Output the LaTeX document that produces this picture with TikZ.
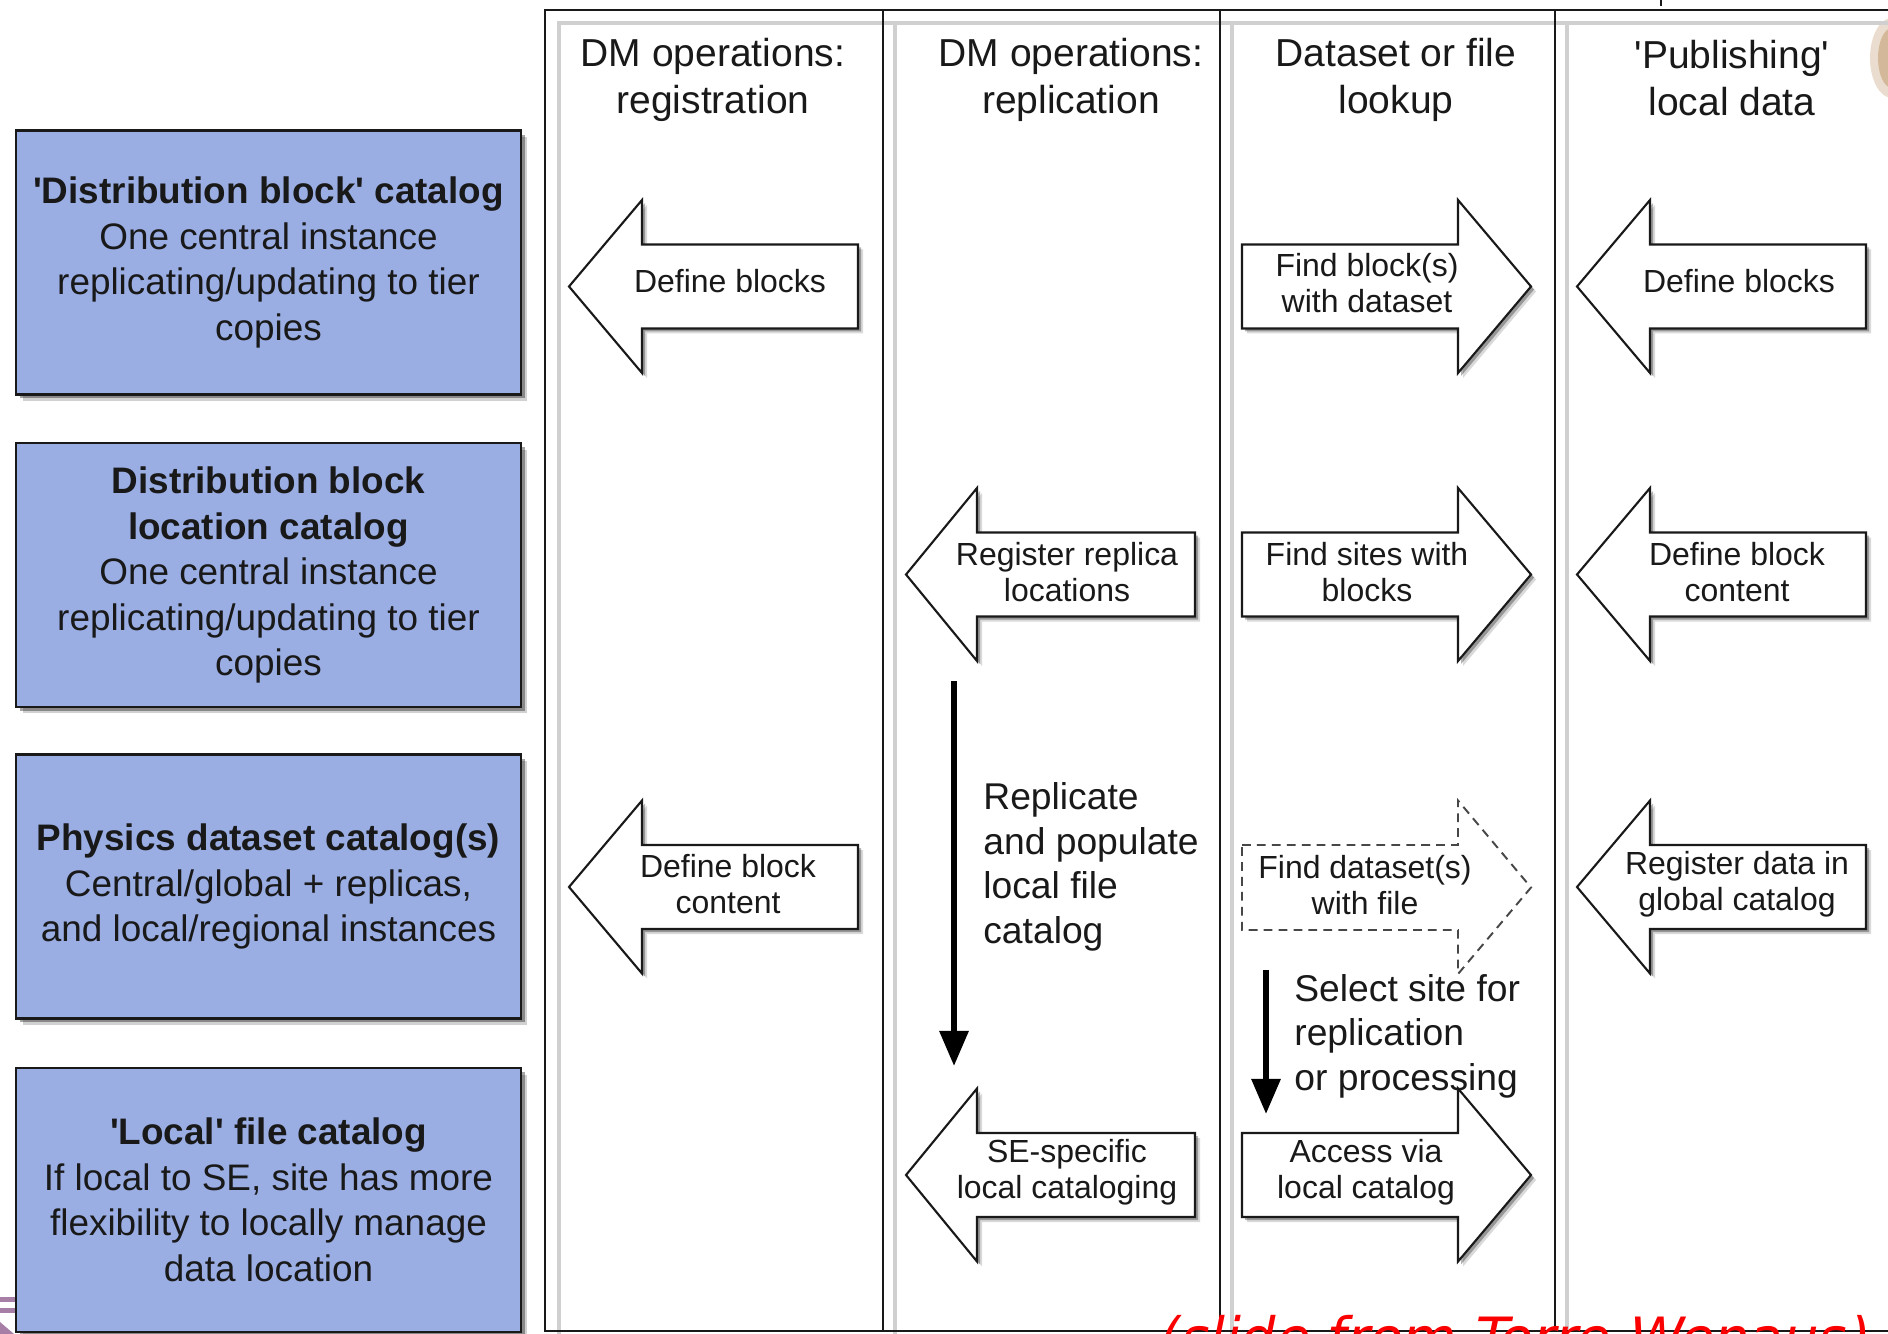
\documentclass[tikz,border=0pt]{standalone}
\usepackage{fontspec}
\setmainfont{Liberation Sans}[Ligatures=TeXOff]
\newfontfamily\redfont[FakeSlant=0.2]{DejaVu Sans}
\usetikzlibrary{arrows.meta,shadows}
\definecolor{boxblue}{RGB}{154,174,228}
\definecolor{lanegray}{RGB}{208,208,208}
\definecolor{ink}{RGB}{25,25,25}
\definecolor{slidered}{RGB}{250,0,0}
\definecolor{photobrown}{RGB}{196,160,118}
\newcommand\blkL[4]{% tip x, head base x, end x, centre y
  \path[barrow] (#1,#4) -- (#2,#4-86.5) -- (#2,#4-42) -- (#3,#4-42) -- (#3,#4+42) -- (#2,#4+42) -- (#2,#4+86.5) -- cycle;}
\newcommand\blkR[4]{% start x, head base x, tip x, centre y
  \path[barrow] (#1,#4-42) -- (#2,#4-42) -- (#2,#4-86.5) -- (#3,#4) -- (#2,#4+86.5) -- (#2,#4+42) -- (#1,#4+42) -- cycle;}
\begin{document}
\begin{tikzpicture}[x=0.02cm,y=-0.02cm,
  catbox/.style={draw=ink, line width=1.4pt, fill=boxblue, minimum width=10.1cm, minimum height=5.28cm,
     align=center, inner sep=0pt, text=ink, font=\fontsize{21}{25.9}\selectfont,
     drop shadow={shadow xshift=0.13cm, shadow yshift=-0.13cm, opacity=0.18, fill=black},
     drop shadow={shadow xshift=0.08cm, shadow yshift=-0.08cm, opacity=0.35, fill=black}},
  hdr/.style={align=center, inner sep=0pt, text=ink, font=\fontsize{22.2}{26.7}\selectfont},
  alabel/.style={align=center, inner sep=0pt, text=ink, font=\fontsize{18.2}{20.5}\selectfont},
  side/.style={align=left, inner sep=0pt, text=ink, anchor=west, font=\fontsize{21.2}{25.3}\selectfont},
  lane/.style={draw=ink, line width=1.2pt},
  laneshade/.style={draw=lanegray, line width=2.4pt},
  barrow/.style={draw=ink, line width=1.2pt, fill=white, line join=miter,
     drop shadow={shadow xshift=0.1cm, shadow yshift=-0.1cm, opacity=0.15, fill=black},
     drop shadow={shadow xshift=0.06cm, shadow yshift=-0.06cm, opacity=0.3, fill=black}},
  dasharrow/.style={draw=ink!80, line width=1.1pt, fill=white, dash pattern=on 5pt off 3.5pt},
  flow/.style={draw=black, line width=3.4pt, -{Triangle[width=16pt,length=20pt]}},
]
\useasboundingbox (0,0) rectangle (1888,1334);
\begin{scope}
\clip (0,0) rectangle (1888,1334);
\fill[white] (0,0) rectangle (1888,1334);

% decorative fragments at the edges
\fill[photobrown, opacity=0.35] (1892,58) ellipse (22 and 40);
\fill[photobrown, opacity=0.6] (1892,58) ellipse (14 and 30);
\draw[ink, line width=0.8pt] (1661,0) -- (1661,6);
\fill[violet!45!gray!70!white] (0,1297) rectangle (16,1302);
\fill[violet!45!gray!70!white] (0,1308) rectangle (16,1313);
\fill[violet!45!gray!70!white] (0,1322) -- (14,1334) -- (0,1334) -- cycle;

% swim lanes
\draw[laneshade] (559,1334) -- (559,23) -- (1890,23);
\draw[laneshade] (895,23) -- (895,1334);
\draw[laneshade] (1232,23) -- (1232,1334);
\draw[laneshade] (1567,23) -- (1567,1334);
\draw[lane] (1895,10) -- (545,10) -- (545,1331) -- (1895,1331);
\draw[lane] (883,10) -- (883,1331);
\draw[lane] (1220,10) -- (1220,1331);
\draw[lane] (1555,10) -- (1555,1331);

% lane headers
\node[hdr] (h1) at (713,80) {DM operations:\\registration};
\node[hdr] (h2) at (1071,80) {DM operations:\\replication};
\node[hdr] (h3) at (1396,80) {Dataset or file\\lookup};
\node[hdr] (h4) at (1732,78) {'Publishing'\\local data};

% catalog boxes
\node[catbox] (c1) at (268.5,262.5) {\textbf{'Distribution block' catalog}\\One central instance\\replicating/updating to tier\\copies};
\node[catbox] (c2) at (268.5,575) {\textbf{Distribution block}\\\textbf{location catalog}\\One central instance\\replicating/updating to tier\\copies};
\node[catbox] (c3) at (268.5,886.5) {\textbf{Physics dataset catalog(s)}\\Central/global + replicas,\\and local/regional instances};
\node[catbox] (c4) at (268.5,1200) {\textbf{'Local' file catalog}\\If local to SE, site has more\\flexibility to locally manage\\data location};

% row 1
\blkL{569}{642}{858}{286.5}
\node[alabel] (a11) at (730,281) {Define blocks};
\blkR{1242}{1458}{1531}{286.5}
\node[alabel] (a13) at (1367,283) {Find block(s)\\with dataset};
\blkL{1577}{1650}{1866}{286.5}
\node[alabel] (a14) at (1739,281) {Define blocks};

% row 2
\blkL{906}{977}{1195}{574.5}
\node[alabel] (a22) at (1067,572) {Register replica\\locations};
\blkR{1242}{1458}{1531}{574.5}
\node[alabel] (a23) at (1367,572) {Find sites with\\blocks};
\blkL{1577}{1650}{1866}{574.5}
\node[alabel] (a24) at (1737,572) {Define block\\content};

% row 3
\blkL{569}{642}{858}{887}
\node[alabel] (a31) at (728,884) {Define block\\content};
\path[dasharrow] (1242,845) -- (1458,845) -- (1458,800.5) -- (1531,887.5) -- (1458,974) -- (1458,930) -- (1242,930) -- cycle;
\node[alabel] (a33) at (1365,885) {Find dataset(s)\\with file};
\blkL{1577}{1650}{1866}{887}
\node[alabel] (a34) at (1737,884) {Register data in\\global catalog};

% row 4
\blkL{906}{977}{1195}{1175}
\node[alabel] (a42) at (1067,1172) {SE-specific\\local cataloging};
\blkR{1242}{1458}{1531}{1175}
\node[alabel] (a43) at (1366,1172) {Access via\\local catalog};

% vertical flow arrows and their notes
\coordinate (f1s) at (954,681);
\coordinate (f1e) at (954,1066);
\draw[flow] (f1s) -- (f1e);
\node[side] (n1) at (983,867) {Replicate\\and populate\\local file\\catalog};
\coordinate (f2s) at (1266,970);
\coordinate (f2e) at (1266,1114);
\draw[flow] (f2s) -- (f2e);
\node[side] (n2) at (1294,1036) {Select site for\\replication\\or processing};

% credit line, cut by the lower edge as in the reference
\node[anchor=base west, inner sep=0pt, text=slidered, font=\redfont\fontsize{31.6}{36}\selectfont] (credit) at (1156,1357) {(slide from Torre Wenaus)};
\end{scope}
\end{tikzpicture}
\end{document}
